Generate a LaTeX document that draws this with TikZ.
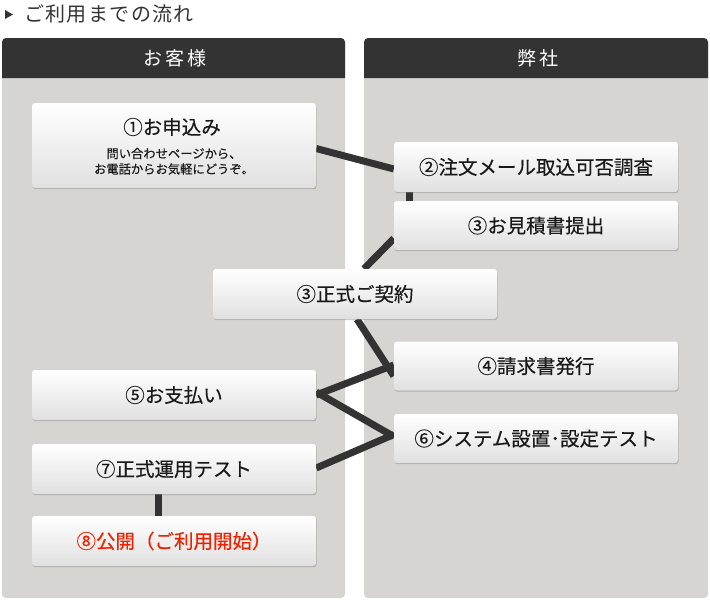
\documentclass[tikz,border=0pt]{standalone}
\usepackage{fontspec}
\setmainfont{Noto Sans CJK JP}
\usetikzlibrary{shadows,calc}
\pgfdeclarelayer{bg}
\pgfdeclarelayer{lines}
\pgfsetlayers{bg,lines,main}
\definecolor{panel}{RGB}{215,213,209}
\definecolor{dark}{RGB}{51,51,51}
\definecolor{txt}{RGB}{25,25,25}
\definecolor{redtxt}{RGB}{238,34,0}
\definecolor{boxbot}{RGB}{224,224,224}
\begin{document}
\begin{tikzpicture}[x=1pt,y=-1pt,
  box/.style={rectangle, rounded corners=3pt, top color=white, bottom color=boxbot,
    minimum width=284pt, minimum height=50pt, inner sep=0pt, text=txt,
    font=\fontsize{19.5}{23}\selectfont\addfontfeature{FakeBold=0.3},
    drop shadow={shadow xshift=0.6pt, shadow yshift=-1.2pt, opacity=0.35, fill=black!60}},
  hdr/.style={text=white, font=\fontsize{19}{22}\selectfont\addfontfeature{LetterSpace=16}},
  conn/.style={draw=dark, line width=7pt},
  subtxt/.style={text=txt, font=\fontsize{12.3}{15}\selectfont\addfontfeature{FakeBold=0.3}, inner sep=0pt}
]
\useasboundingbox (0,0) rectangle (710,600);
% title
\fill[dark] (5,10) -- (13,14.5) -- (5,19) -- cycle;
\node[anchor=west, inner sep=0pt, text=dark, font=\fontsize{20}{24}\selectfont\addfontfeature{LetterSpace=7}] (title) at (24,13.5) {ご利用までの流れ};

% panels
\begin{pgfonlayer}{bg}
\fill[panel, rounded corners=4pt] (2,40) rectangle (345,598);
\fill[panel, rounded corners=4pt] (364,40) rectangle (708,598);
\fill[dark] (2,78) [rounded corners=4pt]-- (2,38) -- (345,38) [sharp corners]-- (345,78) -- cycle;
\fill[dark] (364,78) [rounded corners=4pt]-- (364,38) -- (708,38) [sharp corners]-- (708,78) -- cycle;
\end{pgfonlayer}
\node[hdr] (h1) at (175,58) {お客様};
\node[hdr] (h2) at (538,58) {弊社};

% boxes
\node[box, minimum height=85pt] (n1) at (174,145.5) {};
\node[inner sep=0pt, text=txt, font=\fontsize{19.5}{23}\selectfont\addfontfeature{FakeBold=0.3}] (t1) at (172,127) {①お申込み};
\node[subtxt] (t1a) at (174,153.5) {問い合わせページから、};
\node[subtxt] (t1b) at (174,169) {お電話からお気軽にどうぞ。};
\node[box] (n2) at (536,167) {②注文メール取込可否調査};
\node[box, minimum height=49pt] (n3) at (536,225.5) {③お見積書提出};
\node[box] (n4) at (355,294) {③正式ご契約};
\node[box, minimum height=49pt] (n5) at (536,366) {④請求書発行};
\node[box] (n6) at (174,395) {⑤お支払い};
\node[box, minimum height=49pt] (n7) at (536,438.5) {⑥システム設置･設定テスト};
\node[box] (n8) at (174,469) {⑦正式運用テスト};
\node[box, text=redtxt] (n9) at (174,541) {⑧公開（ご利用開始）};

% connectors
\begin{pgfonlayer}{lines}
\draw[conn] ([yshift=-3pt]n1.east) -- ([yshift=-2pt]n2.west);
\draw[conn] ([xshift=16pt]n2.south west) -- ([xshift=16pt]n3.north west);
\draw[conn] ([yshift=-13pt]n3.west) -- ([xshift=9pt]n4.north);
\draw[conn] ([xshift=2pt]n4.south) -- ([yshift=-10pt]n5.west);
\draw[conn] (n6.east) -- ([yshift=1pt]n5.west);
\draw[conn] ([yshift=3pt]n6.east) -- ([yshift=2pt]n7.west);
\draw[conn] ([yshift=1pt]n8.east) -- ([yshift=4pt]n7.west);
\draw[conn] ([xshift=-16pt]n8.south) -- ([xshift=-16pt]n9.north);
\end{pgfonlayer}
\end{tikzpicture}
\end{document}
